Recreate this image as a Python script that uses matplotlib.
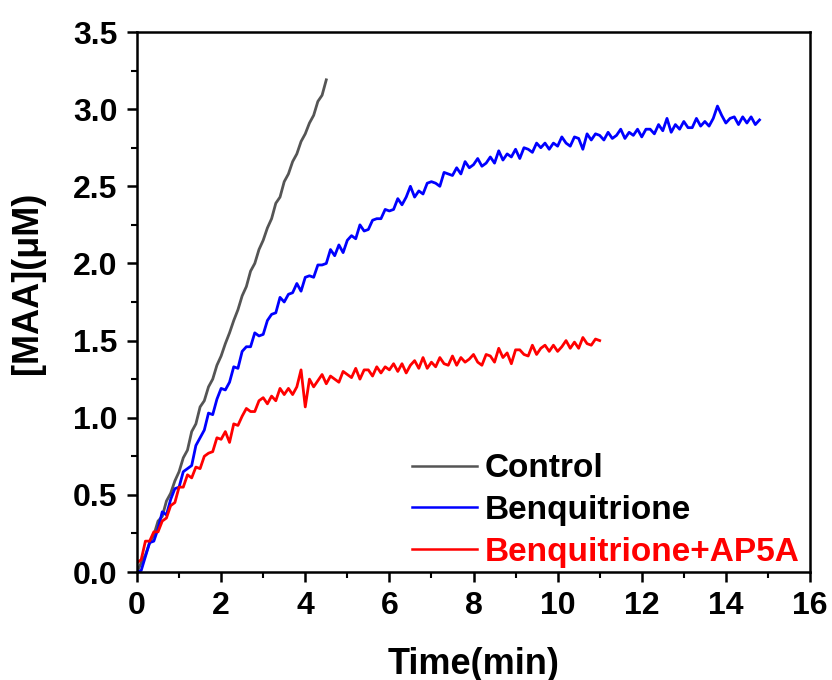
import matplotlib
matplotlib.use("Agg")
import matplotlib.pyplot as plt
from matplotlib.ticker import MultipleLocator

plt.rcParams['font.family'] = ['Liberation Sans', 'DejaVu Sans']
plt.rcParams['font.weight'] = 'bold'

# ---- data ----
control_t = [round(0.1 * i, 1) for i in range(46)]
control_y = [0.00, 0.06, 0.11, 0.19, 0.24, 0.33, 0.36, 0.46, 0.51, 0.59,
             0.65, 0.74, 0.79, 0.91, 0.96, 1.07, 1.11, 1.20, 1.25, 1.34,
             1.40, 1.48, 1.55, 1.63, 1.70, 1.79, 1.85, 1.95, 2.00, 2.09,
             2.15, 2.23, 2.29, 2.39, 2.43, 2.53, 2.58, 2.66, 2.71, 2.79,
             2.84, 2.91, 2.96, 3.05, 3.09, 3.19]

benq_t = [round(0.1 * i, 1) for i in range(149)]
benq_y = [0.00, 0.01, 0.10, 0.19, 0.20, 0.28, 0.39, 0.37, 0.47, 0.54,
          0.55, 0.65, 0.67, 0.69, 0.82, 0.87, 0.92, 1.03, 1.02, 1.12,
          1.19, 1.18, 1.23, 1.33, 1.32, 1.43, 1.46, 1.46, 1.55, 1.53,
          1.54, 1.63, 1.67, 1.68, 1.78, 1.75, 1.80, 1.81, 1.87, 1.82,
          1.91, 1.92, 1.91, 1.99, 1.99, 2.00, 2.09, 2.05, 2.12, 2.07,
          2.15, 2.18, 2.16, 2.25, 2.21, 2.22, 2.28, 2.29, 2.29, 2.35,
          2.34, 2.35, 2.42, 2.38, 2.43, 2.50, 2.43, 2.47, 2.45, 2.52,
          2.53, 2.52, 2.50, 2.59, 2.58, 2.57, 2.62, 2.58, 2.66, 2.62,
          2.64, 2.68, 2.63, 2.65, 2.69, 2.65, 2.73, 2.67, 2.71, 2.69,
          2.74, 2.68, 2.75, 2.74, 2.72, 2.78, 2.75, 2.78, 2.74, 2.78,
          2.76, 2.82, 2.78, 2.76, 2.82, 2.81, 2.74, 2.84, 2.80, 2.84,
          2.83, 2.80, 2.85, 2.81, 2.83, 2.87, 2.81, 2.85, 2.83, 2.87,
          2.82, 2.87, 2.87, 2.84, 2.90, 2.86, 2.94, 2.85, 2.90, 2.87,
          2.92, 2.88, 2.88, 2.94, 2.89, 2.92, 2.89, 2.94, 3.02, 2.96,
          2.91, 2.94, 2.95, 2.90, 2.95, 2.91, 2.95, 2.90, 2.93]

ap5a_t = [round(0.1 * i, 1) for i in range(111)]
ap5a_y = [0.06, 0.08, 0.20, 0.20, 0.26, 0.26, 0.33, 0.35, 0.43, 0.45,
          0.55, 0.55, 0.63, 0.61, 0.68, 0.67, 0.75, 0.77, 0.78, 0.87,
          0.86, 0.91, 0.84, 0.96, 0.95, 1.01, 1.06, 1.04, 1.04, 1.11,
          1.13, 1.09, 1.14, 1.11, 1.19, 1.15, 1.19, 1.15, 1.20, 1.31,
          1.07, 1.25, 1.20, 1.24, 1.28, 1.22, 1.27, 1.25, 1.23, 1.30,
          1.28, 1.26, 1.32, 1.25, 1.31, 1.31, 1.27, 1.33, 1.29, 1.33,
          1.31, 1.35, 1.30, 1.35, 1.29, 1.34, 1.37, 1.32, 1.39, 1.32,
          1.36, 1.33, 1.39, 1.35, 1.34, 1.40, 1.34, 1.39, 1.36, 1.38,
          1.41, 1.36, 1.34, 1.41, 1.40, 1.36, 1.45, 1.39, 1.42, 1.35,
          1.44, 1.44, 1.41, 1.40, 1.47, 1.41, 1.45, 1.47, 1.43, 1.47,
          1.43, 1.46, 1.50, 1.45, 1.49, 1.45, 1.52, 1.48, 1.47, 1.51, 1.50]

labels = ['Control', 'Benquitrione', 'Benquitrione+AP5A']
colors = ['#555555', '#0000ff', '#ff0000']
xticks = [0, 2, 4, 6, 8, 10, 12, 14, 16]
yticks = [0.0, 0.5, 1.0, 1.5, 2.0, 2.5, 3.0, 3.5]

# ---- figure ----
fig = plt.figure(figsize=(8.32, 6.8), dpi=100)
ax = fig.add_axes([137/832, 1 - 572/680, (810-137)/832, (572-32)/680])

ax.plot(control_t, control_y, color=colors[0], lw=2.0, label=labels[0])
ax.plot(benq_t, benq_y, color=colors[1], lw=2.0, label=labels[1])
ax.plot(ap5a_t, ap5a_y, color=colors[2], lw=2.0, label=labels[2])

ax.set_xlim(0, 16)
ax.set_ylim(0, 3.5)
ax.set_xticks(xticks)
ax.set_yticks(yticks)
ax.set_xticklabels([str(v) for v in xticks])
ax.set_yticklabels([f'{v:.1f}' for v in yticks])
ax.xaxis.set_minor_locator(MultipleLocator(1))
ax.yaxis.set_minor_locator(MultipleLocator(0.25))
ax.tick_params(which='major', direction='out', length=7, width=1.8,
               labelsize=23, pad=7, top=False, right=False)
ax.tick_params(which='minor', direction='out', length=4, width=1.5,
               top=False, right=False)
for s in ax.spines.values():
    s.set_linewidth(1.8)

ax.set_xlabel('Time(min)', fontsize=26, fontweight='bold')
ax.set_ylabel('[MAA](μM)', fontsize=26, fontweight='bold')
ax.xaxis.set_label_coords(0.5, -0.138)
ax.yaxis.set_label_coords(-0.137, 0.535)

leg = ax.legend(loc='lower left', bbox_to_anchor=(0.408, 0.008), frameon=False,
                fontsize=24, handlelength=1.95, handletextpad=0.25,
                labelspacing=0.32, borderpad=0, borderaxespad=0)
for txt, c in zip(leg.get_texts(), ['black', 'black', '#ff0000']):
    txt.set_color(c)
for h in leg.get_lines():
    h.set_linewidth(1.8)

fig.savefig('out.png', dpi=100)
